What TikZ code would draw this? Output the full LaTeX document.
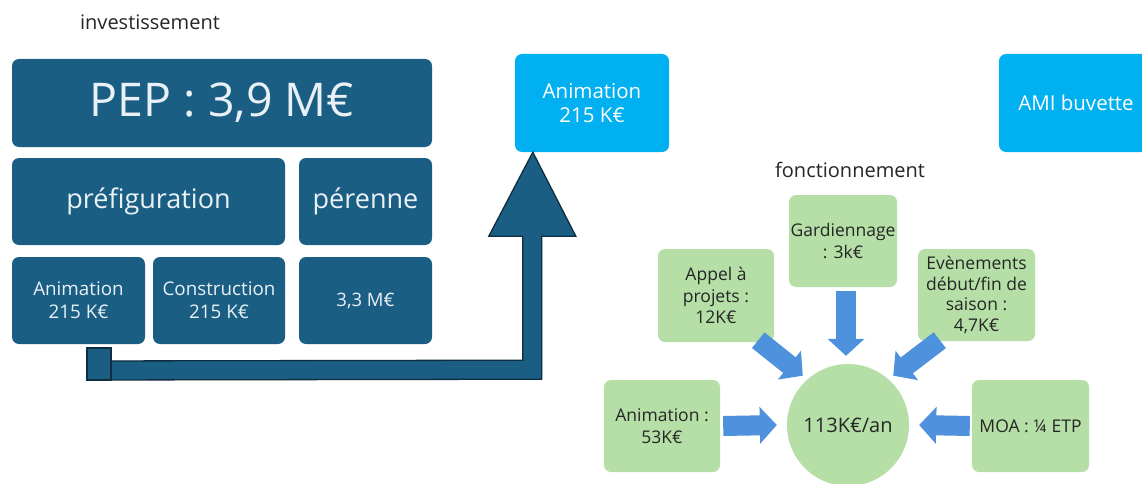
\documentclass[tikz,border=0pt]{standalone}
\usepackage{fontspec}
\setmainfont{Open Sans}
\usetikzlibrary{arrows.meta,calc}
\definecolor{dblue}{HTML}{1A5E83}
\definecolor{dtext}{HTML}{E9F1F6}
\definecolor{cyanbox}{HTML}{00B0F0}
\definecolor{lgreen}{HTML}{B5DFA6}
\definecolor{ablue}{HTML}{4E91DC}
\definecolor{aline}{HTML}{0E2E40}
\tikzset{
  darkbox/.style={fill=dblue, rounded corners=7pt, text=dtext, align=center, inner sep=0pt},
  cyanb/.style={fill=cyanbox, rounded corners=7pt, text=white, align=center, inner sep=0pt, minimum width=154pt, minimum height=98pt, font=\fontsize{20.5}{24}\selectfont},
  greenbox/.style={fill=lgreen, rounded corners=7pt, text=black!85, align=center, inner sep=0pt, minimum width=116pt, minimum height=92pt, font=\fontsize{17.5}{21.5}\selectfont},
  barrow/.style={draw=ablue, line width=20pt, -{Triangle[length=17pt,width=36pt]}},
  lbl/.style={font=\fontsize{20}{24}\selectfont, text=black!85}
}
\begin{document}
\begin{tikzpicture}[x=1pt,y=-1pt]
\useasboundingbox[fill=white] (0,0) rectangle (1142,484);
% titles
\node[lbl] (inv) at (150,22) {investissement};
\node[lbl] (fonc) at (850,170) {fonctionnement};
% investment boxes
\node[darkbox, minimum width=420pt, minimum height=88pt, font=\fontsize{46.5}{52}\selectfont] (pep) at (222,103) {PEP : 3,9 M€};
\node[darkbox, minimum width=273pt, minimum height=87pt, font=\fontsize{27}{32}\selectfont] (pref) at (148.5,201.5) {préfiguration};
\node[darkbox, minimum width=133pt, minimum height=87pt, font=\fontsize{27}{32}\selectfont] (per) at (365.5,201.5) {pérenne};
\node[darkbox, minimum width=133pt, minimum height=87pt, font=\fontsize{18.8}{23}\selectfont] (anim1) at (78.5,300.5) {Animation\\215 K€};
\node[darkbox, minimum width=132pt, minimum height=87pt, font=\fontsize{18.8}{23}\selectfont] (cons) at (219,300.5) {Construction\\215 K€};
\node[darkbox, minimum width=133pt, minimum height=87pt, font=\fontsize{18.5}{23}\selectfont] (m33) at (365.5,300.5) {3,3 M€};
% cyan boxes
\node[cyanb] (anim2) at (592,103) {Animation\\215 K€};
\node[cyanb] (ami) at (1076,103) {AMI buvette};
% bent arrow
\coordinate (tip) at ($(anim2.south west)+(18,0)$);
\draw[fill=dblue, draw=aline, line width=1.3pt, line join=miter]
  (87,361) -- ($(tip)+(-10,208)$) -- ($(tip)+(-10,84)$) -- ($(tip)+(-44,84)$) -- (tip)
  -- ($(tip)+(43,84)$) -- ($(tip)+(9,84)$) -- ($(tip)+(9,227)$) -- (87,380) -- cycle;
\draw[fill=dblue, draw=aline, line width=1.3pt] (87,348) rectangle (111,380);
% operating
\node[greenbox, minimum width=108pt] (gard) at (843,241) {Gardiennage\\: 3k€};
\node[greenbox, minimum height=93pt] (appel) at (716,295.5) {Appel à\\projets :\\12K€};
\node[greenbox, minimum width=117pt, font=\fontsize{17.5}{20.5}\selectfont] (even) at (976.5,295) {Evènements\\début/fin de\\saison :\\4,7K€};
\node[greenbox] (anim3) at (662,426) {Animation :\\53K€};
\node[greenbox, minimum width=117pt] (moa) at (1030.5,426) {MOA : ¼ ETP};
\node[circle, fill=lgreen, minimum size=122pt, inner sep=0pt, text=black!85, font=\fontsize{20}{24}\selectfont] (tot) at (848,425) {113K€/an};
% blue arrows
\coordinate (a1s) at ($(anim3.east)+(3,0)$);
\coordinate (a1e) at ($(tot.west)+(-10,0)$);
\draw[barrow] (a1s) -- (a1e);
\coordinate (a2s) at ($(moa.west)+(-2,0)$);
\coordinate (a2e) at ($(tot.east)+(10,0)$);
\draw[barrow] (a2s) -- (a2e);
\coordinate (a3s) at ($(gard.south)+(3,4)$);
\coordinate (a3e) at ($(tot.north)+(-2,-8)$);
\draw[barrow] (a3s) -- (a3e);
\coordinate (a4s) at ($(appel.south east)+(-16,-2)$);
\coordinate (a4e) at ($(tot.north west)+(-2,-6)$);
\draw[barrow] (a4s) -- (a4e);
\coordinate (a5s) at ($(even.south west)+(22,-1)$);
\coordinate (a5e) at ($(tot.north east)+(2,-6)$);
\draw[barrow] (a5s) -- (a5e);
\end{tikzpicture}
\end{document}
